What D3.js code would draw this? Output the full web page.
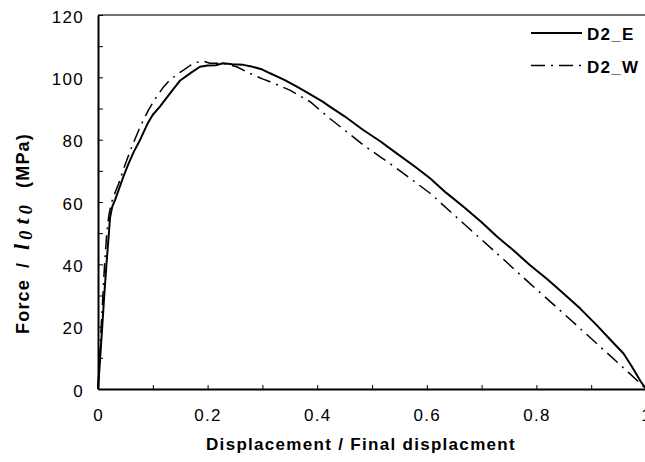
<!DOCTYPE html>
<html>
<head>
<meta charset="utf-8">
<script src="https://cdn.jsdelivr.net/npm/d3@7"></script>
<style>
  body { margin: 0; background: #fff; }
  text { font-family: "Liberation Sans", Arial, sans-serif; }
</style>
</head>
<body>
<svg id="chart" width="645" height="462"></svg>
<script>
// D2_E (solid)
var eDisp = [0, 0.004, 0.007, 0.011, 0.015, 0.019, 0.022, 0.026, 0.031, 0.038, 0.046, 0.055, 0.065, 0.077, 0.09, 0.1, 0.113, 0.13, 0.15, 0.17, 0.186, 0.2, 0.215, 0.228, 0.245, 0.265, 0.28, 0.3, 0.314, 0.34, 0.363, 0.385, 0.41, 0.423, 0.45, 0.484, 0.515, 0.545, 0.575, 0.606, 0.635, 0.667, 0.7, 0.728, 0.758, 0.788, 0.82, 0.849, 0.88, 0.91, 0.935, 0.959, 0.975, 0.99, 1.0];
var eForce = [0, 10, 18, 29, 39, 48, 55, 58.5, 60.6, 64, 68, 72, 76, 80, 85, 88, 90.6, 94.5, 99, 101.5, 103.4, 103.8, 103.9, 104.5, 104.2, 104, 103.5, 102.5, 101.3, 99.2, 97, 94.8, 92.2, 90.6, 87.5, 83.1, 79.5, 75.6, 71.8, 67.6, 63, 58.5, 53.5, 48.9, 44.5, 39.8, 35.2, 30.7, 25.8, 20.5, 15.8, 11.4, 7, 2.5, 0];

// D2_W (dash-dot)
var wDisp = [0, 0.004, 0.008, 0.012, 0.016, 0.02, 0.025, 0.03, 0.038, 0.046, 0.06, 0.077, 0.092, 0.107, 0.12, 0.131, 0.145, 0.156, 0.168, 0.18, 0.192, 0.204, 0.229, 0.253, 0.277, 0.3, 0.314, 0.35, 0.387, 0.423, 0.454, 0.484, 0.515, 0.545, 0.606, 0.667, 0.728, 0.788, 0.849, 0.91, 0.97, 1.0];
var wForce = [0, 14, 27, 40, 50, 56, 60, 62.5, 66, 70.3, 77, 84.2, 89.5, 93.8, 97, 99.1, 101, 102.3, 103.8, 104.8, 105.2, 104.5, 104.5, 103.4, 101.3, 99.5, 98.6, 95.9, 92.2, 86.8, 82.5, 78.3, 74.5, 70.8, 62.8, 53.1, 43.5, 33.9, 24.3, 14.6, 5, 0];

var xTicks = [0, 0.1, 0.2, 0.3, 0.4, 0.5, 0.6, 0.7, 0.8, 0.9, 1];
var yTicks = [0, 10, 20, 30, 40, 50, 60, 70, 80, 90, 100, 110, 120];

var series = [
  { name: "D2_E", disp: eDisp, force: eForce, dash: null, width: 2 },
  { name: "D2_W", disp: wDisp, force: wForce, dash: "14,6,2,6", width: 1.5 }
];

var svg = d3.select("#chart");
var margin = { left: 98, top: 15 };
var width = 548, height = 374;
var fontSize = "17px", spacing = "1.3px";

var x = d3.scaleLinear().domain([0, 1]).range([0, width]);
var y = d3.scaleLinear().domain([0, 120]).range([height, 0]);

var g = svg.append("g").attr("transform", `translate(${margin.left},${margin.top})`);

// frame: top/right lines lighter, left/bottom axes heavier
g.append("line").attr("x1", 0).attr("x2", width).attr("y1", 0).attr("y2", 0)
  .attr("stroke", "#444").attr("stroke-width", 1.5);
g.append("line").attr("x1", width).attr("x2", width).attr("y1", 0).attr("y2", height)
  .attr("stroke", "#444").attr("stroke-width", 1.5);

var xAxis = g.append("g")
  .attr("transform", `translate(0,${height})`)
  .call(d3.axisBottom(x).tickValues(xTicks).tickSize(-4).tickSizeOuter(0).tickPadding(20)
    .tickFormat(d => Math.round(d * 10) % 2 === 0 ? (d === 0 || d === 1 ? String(d) : d.toFixed(1)) : ""));

var yAxis = g.append("g")
  .call(d3.axisLeft(y).tickValues(yTicks).tickSize(-5).tickSizeOuter(0).tickPadding(15)
    .tickFormat(d => d % 20 === 0 ? d : ""));

[xAxis, yAxis].forEach(function(ax) {
  ax.select(".domain").attr("stroke", "#000").attr("stroke-width", 2);
  ax.selectAll(".tick line").attr("stroke", "#000").attr("stroke-width", 1);
  ax.selectAll("text")
    .attr("fill", "#000")
    .style("font-size", fontSize)
    .style("letter-spacing", spacing)
    .style("font-family", "'Liberation Sans', Arial, sans-serif");
});
yAxis.selectAll("text").attr("dy", "0.42em").attr("dx", "1px");

// curves
var line = d3.line()
  .x(d => x(d[0]))
  .y(d => y(d[1]));

series.forEach(function(s) {
  var pts = s.disp.map((v, i) => [v, s.force[i]]);
  g.append("path")
    .datum(pts)
    .attr("d", line)
    .attr("fill", "none")
    .attr("stroke", "#000")
    .attr("stroke-width", s.width)
    .attr("stroke-linejoin", "round")
    .attr("stroke-dasharray", s.dash);
});

// axis titles
svg.append("text")
  .attr("x", 361)
  .attr("y", 450)
  .attr("text-anchor", "middle")
  .style("font-size", fontSize)
  .style("font-weight", "bold")
  .style("letter-spacing", spacing)
  .text("Displacement / Final displacment");

// y title, pieces placed along the rotated baseline
var yt = svg.append("text")
  .attr("transform", "translate(29,224) rotate(-90)")
  .style("font-size", "18px")
  .style("font-weight", "bold")
  .style("letter-spacing", "1.2px");
yt.append("tspan").attr("x", -110).text("Force");
yt.append("tspan").attr("x", -44).text("/");
var it = (sel, size) => sel.style("font-family", "'Liberation Serif', serif").style("font-style", "italic").style("font-size", size);
it(yt.append("tspan").attr("x", -26), "22px").text("l");
it(yt.append("tspan").attr("dy", 3).attr("dx", 3), "18px").text("0");
it(yt.append("tspan").attr("dy", -3).attr("dx", 5), "22px").text("t");
it(yt.append("tspan").attr("dy", 3).attr("dx", 3), "18px").text("0");
yt.append("tspan").attr("x", 36).attr("dy", -3).text("(MPa)");

// legend
var legend = svg.append("g").attr("transform", "translate(531,33)");
var items = legend.selectAll("g")
  .data(series)
  .enter()
  .append("g")
  .attr("transform", (d, i) => `translate(0,${i * 32.5})`);
items.append("line")
  .attr("x1", 0).attr("x2", 51)
  .attr("stroke", "#000")
  .attr("stroke-width", d => d.width)
  .attr("stroke-dasharray", d => d.dash);
items.append("text")
  .attr("x", 56)
  .attr("y", 7)
  .style("font-size", fontSize)
  .style("font-weight", "bold")
  .style("letter-spacing", spacing)
  .text(d => d.name);
</script>
</body>
</html>
